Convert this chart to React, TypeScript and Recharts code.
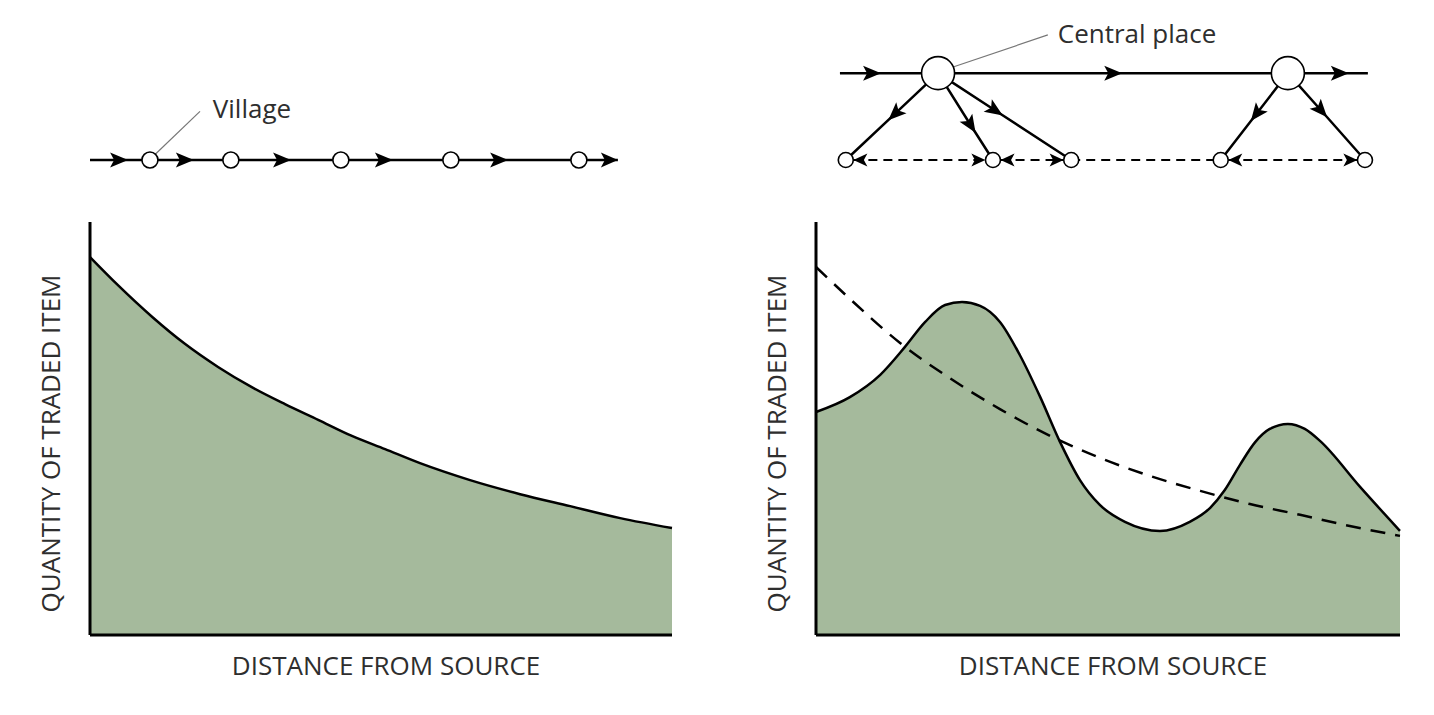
import React from 'react';
import { ComposedChart, Area, Line, Scatter, XAxis, YAxis, ReferenceLine } from 'recharts';

const FONT = '"Open Sans", "DejaVu Sans", sans-serif';
const GREEN = '#a5ba9c';
const INK = '#000';
const TEXT = '#2e2e2e';
const GREY = '#777';

// ---------- axis titles ----------
const X_TITLE = 'DISTANCE FROM SOURCE';
const Y_TITLE = 'QUANTITY OF TRADED ITEM';

// ---------- left panel: quantity vs distance (village chain) ----------
const leftDist = [0, 4.8, 10.7, 16.3, 22.0, 27.8, 33.5, 39.2, 45.0, 50.7, 56.7, 65.3, 73.9, 82.5, 91.1, 100];
const leftQty = [91.5, 84.7, 77.0, 70.5, 64.9, 60.0, 55.9, 52.1, 48.2, 45.0, 41.6, 37.5, 34.1, 31.2, 28.3, 25.9];

// ---------- right panel: quantity vs distance (central places) ----------
const rightDist = [0, 5.8, 11.0, 15.2, 18.7, 22.1, 25.0, 28.1, 31.5, 34.9, 38.4, 41.8, 45.2, 48.6, 52.9, 58.9, 64.0, 67.5, 70.0, 72.6, 75.2, 77.7, 80.8, 83.7, 86.3, 93.2, 100];
const rightQty = [54.0, 57.6, 63.0, 69.7, 75.8, 79.9, 80.6, 79.7, 75.8, 67.8, 57.6, 46.7, 37.5, 31.5, 27.4, 25.2, 27.4, 30.8, 35.1, 41.2, 46.7, 49.9, 51.1, 49.9, 47.0, 35.8, 25.2];
const decayDist = [0, 5.8, 14.4, 22.9, 31.5, 40.1, 48.6, 57.2, 65.8, 74.3, 82.9, 91.4, 100];
const decayQty = [89.1, 81.4, 70.7, 62.2, 54.7, 48.2, 42.9, 38.5, 34.9, 31.7, 29.1, 26.4, 24.0];

// ---------- diagrams (x in distance units, y in diagram rows: 0 = lower row, 1 = upper row) ----------
const villageX = [10.3, 24.2, 43.1, 62.0, 84.0];
const villageRouteX = [0, 5.0, 16.3, 33.0, 50.5, 70.3, 90.7]; // interior points carry arrows, last is arrow tip
const villageLeader = [{ x: 10.5, y: 0.02 }, { x: 18.9, y: 0.56 }];
const villageLabel = [{ x: 21.1, y: 0.6, text: 'Village' }];

const centralX = [20.9, 80.8];
const outerX = [5.1, 30.3, 43.7, 69.3, 94.0];
const mainRouteX = [4.1, 9.6, 50.9, 89.7, 94.5];
const branchA = [{ x: 20.9, y: 1 }, { x: 13.5, y: 0.53 }, { x: 5.1, y: 0 }];
const branchB = [{ x: 20.9, y: 1 }, { x: 26.5, y: 0.4 }, { x: 30.3, y: 0 }];
const branchC = [{ x: 20.9, y: 1 }, { x: 30.7, y: 0.57 }, { x: 43.7, y: 0 }];
const branchD = [{ x: 80.8, y: 1 }, { x: 75.4, y: 0.53 }, { x: 69.3, y: 0 }];
const branchE = [{ x: 80.8, y: 1 }, { x: 86.5, y: 0.57 }, { x: 94.0, y: 0 }];
const exchangeA = [{ x: 6.4, y: 0 }, { x: 29.0, y: 0 }];
const exchangeB = [{ x: 31.6, y: 0 }, { x: 42.4, y: 0 }];
const exchangeC = [{ x: 43.7, y: 0 }, { x: 69.3, y: 0 }];
const exchangeD = [{ x: 70.6, y: 0 }, { x: 92.7, y: 0 }];
const centralLeader = [{ x: 21.7, y: 1.03 }, { x: 39.7, y: 1.44 }];
const centralLabel = [{ x: 41.4, y: 1.46, text: 'Central place' }];

const leftData = leftDist.map((x, i) => ({ x, q: leftQty[i] }));
const rightData = rightDist.map((x, i) => ({ x, q: rightQty[i] }));
const decayData = decayDist.map((x, i) => ({ x, q: decayQty[i] }));
const row = (xs: number[], y: number) => xs.map((x) => ({ x, y }));

const circleShape = (r: number) => (p: any) => (
  <circle cx={p.cx} cy={p.cy} r={r} fill="#fff" stroke={INK} strokeWidth={1.6} />
);
const labelShape = (p: any) => (
  <text x={p.cx} y={p.cy} textAnchor="start" dominantBaseline="central" fontFamily={FONT} fontSize={26} fill={TEXT}>
    {p.payload.text}
  </text>
);

const yTitle = (props: any) => {
  const vb = props.viewBox || {};
  const cx = vb.x - 40;
  const cy = vb.y + vb.height / 2 + 15;
  return (
    <text x={cx} y={cy} transform={`rotate(-90 ${cx} ${cy})`} textAnchor="middle" dominantBaseline="central" fontFamily={FONT} fontSize={26} fill={TEXT}>
      {Y_TITLE}
    </text>
  );
};
const xTitle = (props: any) => {
  const vb = props.viewBox || {};
  const cx = vb.x + vb.width / 2 + 5;
  const cy = vb.y + 30;
  return (
    <text x={cx} y={cy} textAnchor="middle" dominantBaseline="central" fontFamily={FONT} fontSize={26} fill={TEXT}>
      {X_TITLE}
    </text>
  );
};

function ArrowDefs() {
  return (
    <svg width={0} height={0} style={{ position: 'absolute' }}>
      <defs>
        <marker id="arrowMid" viewBox="-11 -9 22 18" markerWidth={22} markerHeight={18} markerUnits="userSpaceOnUse" orient="auto" refX={0} refY={0}>
          <path d="M9,0 L-9,-7.5 L-5,0 L-9,7.5 Z" fill={INK} />
        </marker>
        <marker id="arrowTip" viewBox="-18 -9 19 18" markerWidth={19} markerHeight={18} markerUnits="userSpaceOnUse" orient="auto-start-reverse" refX={0} refY={0}>
          <path d="M0,0 L-17,-7.5 L-13,0 L-17,7.5 Z" fill={INK} />
        </marker>
        <marker id="arrowSmall" viewBox="-15 -8 16 16" markerWidth={16} markerHeight={16} markerUnits="userSpaceOnUse" orient="auto-start-reverse" refX={0} refY={0}>
          <path d="M0,0 L-14,-6.5 L-10.5,0 L-14,6.5 Z" fill={INK} />
        </marker>
      </defs>
    </svg>
  );
}

const axes = (
  <>
    <ReferenceLine segment={[{ x: 0, y: 0 }, { x: 0, y: 100 }]} stroke={INK} strokeWidth={3} ifOverflow="visible" label={yTitle} />
    <ReferenceLine segment={[{ x: 0, y: 0 }, { x: 100, y: 0 }]} stroke={INK} strokeWidth={3} ifOverflow="visible" label={xTitle} />
  </>
);

function LeftPanel() {
  return (
    <>
      <div style={{ position: 'absolute', left: 0, top: 0 }}>
        <ComposedChart width={720} height={200} margin={{ top: 21, right: 48, bottom: 40, left: 90 }}>
          <XAxis dataKey="x" type="number" domain={[0, 100]} hide />
          <YAxis type="number" domain={[0, 1.6]} hide />
          <Line data={villageLeader} dataKey="y" type="linear" stroke={GREY} strokeWidth={1.2} dot={false} activeDot={false} isAnimationActive={false} />
          <Line data={row(villageRouteX, 0)} dataKey="y" type="linear" stroke={INK} strokeWidth={2.5} dot={false} activeDot={false} isAnimationActive={false} markerMid="url(#arrowMid)" markerEnd="url(#arrowTip)" />
          <Scatter data={row(villageX, 0)} dataKey="y" shape={circleShape(8)} isAnimationActive={false} />
          <Scatter data={villageLabel} dataKey="y" shape={labelShape} isAnimationActive={false} />
        </ComposedChart>
      </div>
      <div style={{ position: 'absolute', left: 0, top: 0 }}>
        <ComposedChart width={720} height={715} data={leftData} margin={{ top: 222, right: 48, bottom: 80, left: 90 }}>
          <XAxis dataKey="x" type="number" domain={[0, 100]} hide />
          <YAxis type="number" domain={[0, 100]} hide />
          <Area dataKey="q" type="monotone" fill={GREEN} fillOpacity={1} stroke={INK} strokeWidth={2.5} dot={false} activeDot={false} isAnimationActive={false} />
          {axes}
        </ComposedChart>
      </div>
    </>
  );
}

function RightPanel() {
  const lineProps = { dataKey: 'y', type: 'linear' as const, stroke: INK, dot: false, activeDot: false, isAnimationActive: false };
  return (
    <>
      <div style={{ position: 'absolute', left: 720, top: 0 }}>
        <ComposedChart width={714} height={200} margin={{ top: 21, right: 34, bottom: 40, left: 96 }}>
          <XAxis dataKey="x" type="number" domain={[0, 100]} hide />
          <YAxis type="number" domain={[0, 1.6]} hide />
          <Line {...lineProps} data={centralLeader} stroke={GREY} strokeWidth={1.2} />
          <Line {...lineProps} data={row(mainRouteX, 1)} strokeWidth={2.5} markerMid="url(#arrowMid)" />
          <Line {...lineProps} data={branchA} strokeWidth={2.5} markerMid="url(#arrowMid)" />
          <Line {...lineProps} data={branchB} strokeWidth={2.5} markerMid="url(#arrowMid)" />
          <Line {...lineProps} data={branchC} strokeWidth={2.5} markerMid="url(#arrowMid)" />
          <Line {...lineProps} data={branchD} strokeWidth={2.5} markerMid="url(#arrowMid)" />
          <Line {...lineProps} data={branchE} strokeWidth={2.5} markerMid="url(#arrowMid)" />
          <Line {...lineProps} data={exchangeA} strokeWidth={2} strokeDasharray="9 6" markerStart="url(#arrowSmall)" markerEnd="url(#arrowSmall)" />
          <Line {...lineProps} data={exchangeB} strokeWidth={2} strokeDasharray="9 6" markerStart="url(#arrowSmall)" markerEnd="url(#arrowSmall)" />
          <Line {...lineProps} data={exchangeC} strokeWidth={2} strokeDasharray="9 6" />
          <Line {...lineProps} data={exchangeD} strokeWidth={2} strokeDasharray="9 6" markerStart="url(#arrowSmall)" markerEnd="url(#arrowSmall)" />
          <Scatter data={row(centralX, 1)} dataKey="y" shape={circleShape(16.5)} isAnimationActive={false} />
          <Scatter data={row(outerX, 0)} dataKey="y" shape={circleShape(7.5)} isAnimationActive={false} />
          <Scatter data={centralLabel} dataKey="y" shape={labelShape} isAnimationActive={false} />
        </ComposedChart>
      </div>
      <div style={{ position: 'absolute', left: 720, top: 0 }}>
        <ComposedChart width={714} height={715} data={rightData} margin={{ top: 222, right: 34, bottom: 80, left: 96 }}>
          <XAxis dataKey="x" type="number" domain={[0, 100]} hide />
          <YAxis type="number" domain={[0, 100]} hide />
          <Area dataKey="q" type="monotone" fill={GREEN} fillOpacity={1} stroke={INK} strokeWidth={2.5} dot={false} activeDot={false} isAnimationActive={false} />
          <Line data={decayData} dataKey="q" type="monotone" stroke={INK} strokeWidth={2.5} strokeDasharray="15 10" dot={false} activeDot={false} isAnimationActive={false} />
          {axes}
        </ComposedChart>
      </div>
    </>
  );
}

export default function App() {
  return (
    <div style={{ position: 'absolute', left: 0, top: 0, width: 1434, height: 715, background: '#fff', fontFamily: FONT, overflow: 'hidden' }}>
      <ArrowDefs />
      <LeftPanel />
      <RightPanel />
    </div>
  );
}
